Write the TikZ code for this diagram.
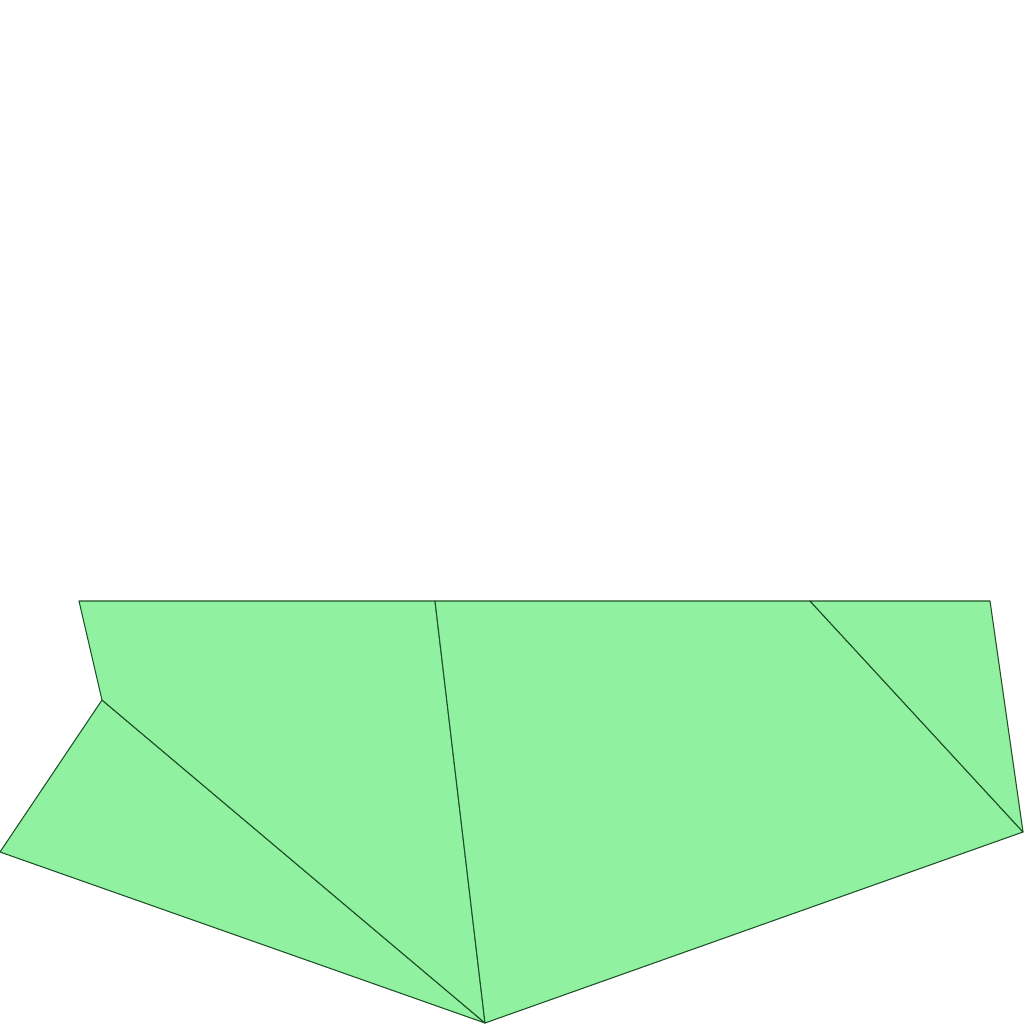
\documentclass[tikz,border=0pt]{standalone}
\usepackage{tikz}
\usetikzlibrary{calc}
\definecolor{faceGreen}{RGB}{144,242,160}
\definecolor{edgeGreen}{RGB}{30,80,40}
\tikzset{
  face/.style={fill=faceGreen, draw=edgeGreen, line width=0.3pt, line join=round},
}
\begin{document}
\begin{tikzpicture}[x=0.01cm, y=-0.01cm]
    \useasboundingbox (0,0) rectangle (1024,1024);
    % outline points
    \coordinate (tl) at (79,601);
    \coordinate (kink) at (102,700);
    \coordinate (left) at (0,852);
    \coordinate (bot) at (485,1023);
    \coordinate (right) at (1023,832);
    \coordinate (tr) at (990,601);
    \coordinate (tm) at (435,601);
    \coordinate (tq) at (810,601);
    % faces
    \fill[faceGreen] (tl) -- (kink) -- (left) -- (bot) -- (right) -- (tr) -- cycle;
    \draw[face] (left) -- (kink) -- (bot) -- cycle;
    \draw[face] (kink) -- (tl) -- (tm) -- (bot) -- cycle;
    \draw[face] (tm) -- (tq) -- (right) -- (bot) -- cycle;
    \draw[face] (tq) -- (tr) -- (right) -- cycle;
  \end{tikzpicture}
\end{document}
